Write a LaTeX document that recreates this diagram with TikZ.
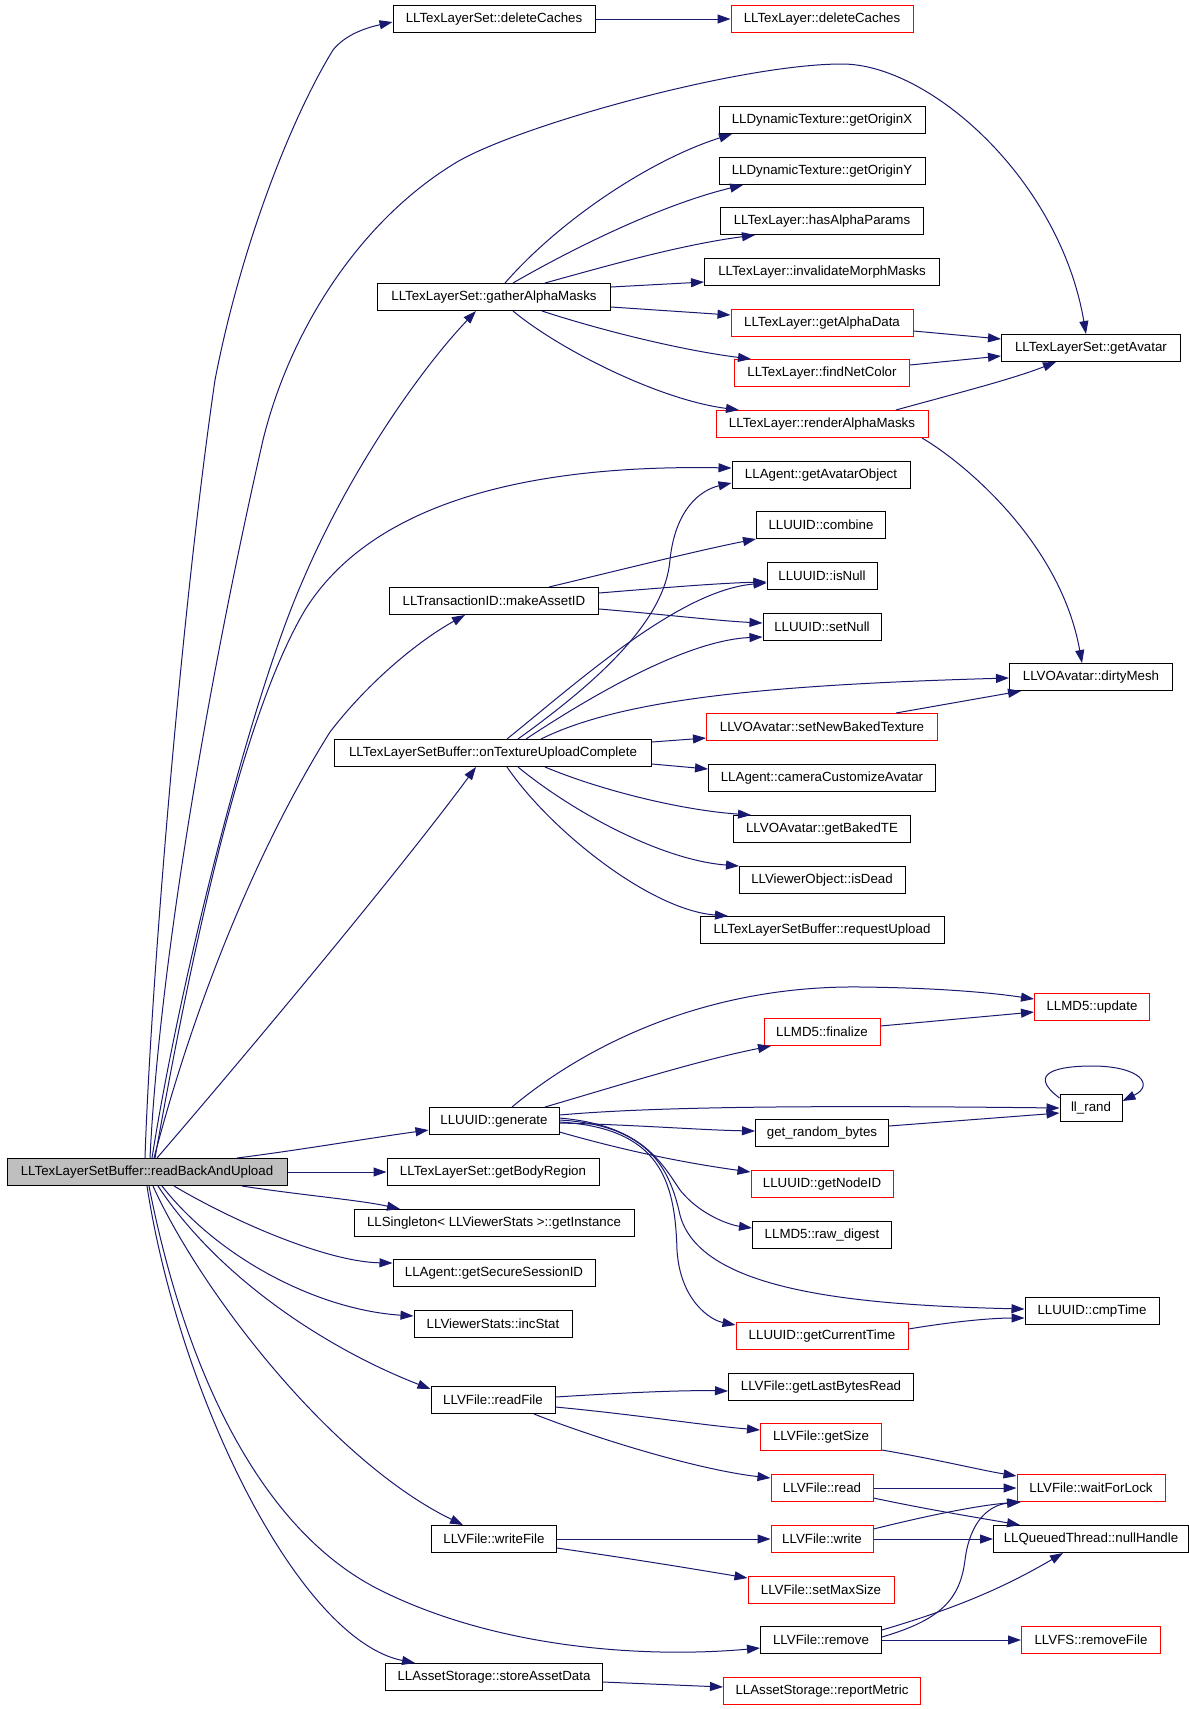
\documentclass[tikz,border=0pt]{standalone}
\usepackage{fontspec}
\setmainfont{Liberation Sans}
\usetikzlibrary{arrows.meta,calc}
\definecolor{edgeblue}{RGB}{25,25,112}
\definecolor{nred}{RGB}{255,0,0}
\begin{document}
\begin{tikzpicture}[x=1pt,y=-1pt,
  nb/.style={draw=black, line width=1pt, fill=white, rectangle, minimum height=27pt, minimum width=#1, inner sep=0pt, font=\fontsize{13.3}{16}\selectfont},
  rb/.style={nb=#1, draw=nred},
  mb/.style={nb=#1, fill=gray!50},
  e/.style={draw=edgeblue, line width=1pt, -{Triangle[length=13pt,width=9pt]}}]
\useasboundingbox (0,0) rectangle (1189,1709);
\fill[white] (0,0) rectangle (1189,1709);
% nodes
\node[mb=280pt] (main) at (147,1172) {LLTexLayerSetBuffer::readBackAndUpload};
\node[nb=202pt] (dcs) at (494,19) {LLTexLayerSet::deleteCaches};
\node[rb=182pt] (dcl) at (822,19) {LLTexLayer::deleteCaches};
\node[nb=206pt] (ox) at (822,120) {LLDynamicTexture::getOriginX};
\node[nb=206pt] (oy) at (822,171) {LLDynamicTexture::getOriginY};
\node[nb=203pt] (hap) at (822,221) {LLTexLayer::hasAlphaParams};
\node[nb=235pt] (imm) at (822,272) {LLTexLayer::invalidateMorphMasks};
\node[nb=233pt] (gam) at (494,297) {LLTexLayerSet::gatherAlphaMasks};
\node[rb=182pt] (gad) at (822,323) {LLTexLayer::getAlphaData};
\node[nb=179pt] (gav) at (1091,348) {LLTexLayerSet::getAvatar};
\node[rb=175pt] (fnc) at (822,373) {LLTexLayer::findNetColor};
\node[rb=212pt] (ram) at (822,424) {LLTexLayer::renderAlphaMasks};
\node[nb=178pt] (gao) at (821,475) {LLAgent::getAvatarObject};
\node[nb=129pt] (cmb) at (821,525) {LLUUID::combine};
\node[nb=110pt] (isn) at (822,576) {LLUUID::isNull};
\node[nb=209pt] (mai) at (494,601) {LLTransactionID::makeAssetID};
\node[nb=118pt] (stn) at (822,627) {LLUUID::setNull};
\node[nb=163pt] (dm) at (1091,677) {LLVOAvatar::dirtyMesh};
\node[rb=231pt] (snb) at (822,727) {LLVOAvatar::setNewBakedTexture};
\node[nb=317pt] (otu) at (493,753) {LLTexLayerSetBuffer::onTextureUploadComplete};
\node[nb=227pt] (cca) at (822,778) {LLAgent::cameraCustomizeAvatar};
\node[nb=177pt] (gbt) at (822,829) {LLVOAvatar::getBakedTE};
\node[nb=166pt] (isd) at (822,880) {LLViewerObject::isDead};
\node[nb=244pt] (ru) at (822,930) {LLTexLayerSetBuffer::requestUpload};
\node[rb=115pt] (upd) at (1092,1007) {LLMD5::update};
\node[rb=116pt] (fin) at (822,1032) {LLMD5::finalize};
\node[nb=62pt] (llr) at (1091,1108) {ll\_rand};
\node[nb=130pt] (gen) at (494,1121) {LLUUID::generate};
\node[nb=133pt] (grb) at (822,1133) {get\_random\_bytes};
\node[nb=212pt] (gbr) at (493,1172) {LLTexLayerSet::getBodyRegion};
\node[rb=142pt] (gni) at (822,1184) {LLUUID::getNodeID};
\node[nb=280pt] (gin) at (494,1223) {LLSingleton< LLViewerStats >::getInstance};
\node[nb=139pt] (rd) at (822,1235) {LLMD5::raw\_digest};
\node[nb=202pt] (gss) at (494,1273) {LLAgent::getSecureSessionID};
\node[nb=134pt] (cmp) at (1092,1311) {LLUUID::cmpTime};
\node[nb=158pt] (inc) at (493,1324) {LLViewerStats::incStat};
\node[rb=172pt] (gct) at (822,1336) {LLUUID::getCurrentTime};
\node[nb=124pt] (rf) at (493,1400) {LLVFile::readFile};
\node[nb=185pt] (glb) at (821,1387) {LLVFile::getLastBytesRead};
\node[rb=121pt] (gsz) at (821,1437) {LLVFile::getSize};
\node[rb=102pt] (rdd) at (822,1488) {LLVFile::read};
\node[rb=148pt] (wfl) at (1091,1488) {LLVFile::waitForLock};
\node[nb=125pt] (wf) at (494,1539) {LLVFile::writeFile};
\node[rb=102pt] (wr) at (822,1539) {LLVFile::write};
\node[nb=195pt] (nh) at (1091,1539) {LLQueuedThread::nullHandle};
\node[rb=146pt] (sms) at (821,1590) {LLVFile::setMaxSize};
\node[nb=121pt] (rm) at (821,1640) {LLVFile::remove};
\node[rb=139pt] (rmf) at (1091,1640) {LLVFS::removeFile};
\node[nb=217pt] (sad) at (494,1677) {LLAssetStorage::storeAssetData};
\node[rb=197pt] (rpm) at (822,1691) {LLAssetStorage::reportMetric};
% edges from main
\draw[e] ($(main.north)+(-2,0)$) .. controls (150,1000) and (180,620) .. (215,380) .. controls (240,250) and (290,120) .. (333,50) .. controls (345,35) and (365,28) .. ($(dcs.west)+(0,3)$);
\draw[e] ($(main.north)+(3,0)$) .. controls (160,950) and (215,650) .. (263,440) .. controls (290,330) and (360,220) .. (457,162) .. controls (520,125) and (740,64) .. (842,64) .. controls (930,64) and (1060,180) .. ($(gav.north)+(-5,0)$);
\draw[e] ($(main.north)+(5,0)$) .. controls (180,980) and (250,700) .. (303,580) .. controls (350,470) and (420,370) .. ($(gam.south)+(-18,0)$);
\draw[e] ($(main.north)+(8,0)$) .. controls (190,960) and (240,720) .. (305,610) .. controls (380,490) and (560,465) .. ($(gao.west)+(0,-7)$);
\draw[e] ($(main.north)+(7,0)$) .. controls (190,1020) and (250,860) .. (330,732) .. controls (370,680) and (420,640) .. ($(mai.south)+(-29,0)$);
\draw[e] ($(main.north)+(10,0)$) .. controls (250,1050) and (400,870) .. ($(otu.south)+(-17,0)$);
\draw[e] ($(main.north)+(90,0)$) .. controls (300,1150) and (370,1138) .. ($(gen.west)+(0,9)$);
\draw[e] (main.east) -- (gbr.west);
\draw[e] ($(main.south)+(95,0)$) .. controls (300,1195) and (360,1200) .. ($(gin.north)+(-94,0)$);
\draw[e] ($(main.south)+(27,0)$) .. controls (240,1225) and (330,1262) .. ($(gss.west)+(0,-10)$);
\draw[e] ($(main.south)+(15,0)$) .. controls (220,1260) and (320,1310) .. ($(inc.west)+(0,-8)$);
\draw[e] ($(main.south)+(11,0)$) .. controls (220,1280) and (330,1350) .. ($(rf.west)+(0,-11)$);
\draw[e] ($(main.south)+(6,0)$) .. controls (200,1290) and (330,1460) .. ($(wf.north)+(-31,0)$);
\draw[e] ($(main.south)+(2,0)$) .. controls (185,1370) and (260,1530) .. (380,1590) .. controls (500,1650) and (650,1658) .. ($(rm.west)+(0,8)$);
\draw[e] ($(main.south)+(0,0)$) .. controls (180,1400) and (300,1640) .. ($(sad.north)+(-79,0)$);
% deleteCaches
\draw[e] (dcs.east) -- (dcl.west);
% gatherAlphaMasks
\draw[e] ($(gam.north)+(11,0)$) .. controls (560,220) and (650,160) .. ($(ox.south)+(-90,0)$);
\draw[e] ($(gam.north)+(19,0)$) .. controls (570,250) and (660,205) .. ($(oy.south)+(-79,0)$);
\draw[e] ($(gam.north)+(51,0)$) .. controls (610,265) and (680,245) .. ($(hap.south)+(-67,0)$);
\draw[e] ($(gam.east)+(0,-10)$) -- ($(imm.west)+(0,10)$);
\draw[e] ($(gam.east)+(0,10)$) -- ($(gad.west)+(0,-8)$);
\draw[e] ($(gam.south)+(48,0)$) .. controls (600,330) and (680,350) .. ($(fnc.north)+(-71,0)$);
\draw[e] ($(gam.south)+(19,0)$) .. controls (560,350) and (660,400) .. ($(ram.north)+(-83,0)$);
\draw[e] ($(gad.east)+(0,8)$) -- ($(gav.west)+(0,-9)$);
\draw[e] ($(fnc.east)+(0,-8)$) -- ($(gav.west)+(0,8)$);
\draw[e] ($(ram.north)+(74,0)$) .. controls (950,395) and (1010,380) .. ($(gav.south)+(-35,0)$);
\draw[e] ($(ram.south)+(100,0)$) .. controls (960,460) and (1060,540) .. ($(dm.north)+(-9,0)$);
% makeAssetID
\draw[e] ($(mai.north)+(55,0)$) .. controls (620,570) and (700,550) .. (cmb.south west);
\draw[e] ($(mai.east)+(0,-8)$) .. controls (660,588) and (720,583) .. ($(isn.west)+(0,6)$);
\draw[e] ($(mai.east)+(0,8)$) .. controls (660,614) and (720,621) .. ($(stn.west)+(0,-4)$);
% onTextureUploadComplete
\draw[e] ($(otu.north)+(25,0)$) .. controls (600,680) and (665,620) .. (670,560) .. controls (675,510) and (700,490) .. ($(gao.west)+(0,8)$);
\draw[e] ($(otu.north)+(14,0)$) .. controls (580,680) and (680,590) .. ($(isn.west)+(0,7)$);
\draw[e] ($(otu.north)+(33,0)$) .. controls (600,690) and (690,640) .. ($(stn.west)+(0,10)$);
\draw[e] ($(otu.north)+(48,0)$) .. controls (620,700) and (760,685) .. ($(dm.west)+(0,1)$);
\draw[e] ($(otu.east)+(0,-11)$) -- ($(snb.west)+(0,11)$);
\draw[e] ($(otu.east)+(0,11)$) -- ($(cca.west)+(0,-9)$);
\draw[e] ($(otu.south)+(52,0)$) .. controls (600,790) and (680,810) .. ($(gbt.north)+(-71,0)$);
\draw[e] ($(otu.south)+(25,0)$) .. controls (570,810) and (660,860) .. ($(isd.north)+(-83,0)$);
\draw[e] ($(otu.south)+(14,0)$) .. controls (550,830) and (650,910) .. ($(ru.north)+(-94,0)$);
\draw[e] ($(snb.north)+(74,0)$) -- ($(dm.south)+(-70,0)$);
% generate
\draw[e] ($(gen.north)+(18,0)$) .. controls (580,1050) and (700,985) .. (861,987) .. controls (950,988) and (1000,994) .. ($(upd.west)+(0,-8)$);
\draw[e] ($(gen.north)+(51,0)$) .. controls (620,1085) and (700,1060) .. ($(fin.south)+(-51,0)$);
\draw[e] ($(gen.east)+(0,-6)$) .. controls (650,1107) and (800,1105) .. (llr.west);
\draw[e] ($(gen.east)+(0,2)$) .. controls (640,1125) and (700,1130) .. ($(grb.west)+(0,-2)$);
\draw[e] ($(gen.east)+(0,11)$) .. controls (640,1155) and (700,1165) .. ($(gni.west)+(0,-12)$);
\draw[e] ($(gen.east)+(0,-3)$) .. controls (640,1125) and (660,1160) .. (680,1190) .. controls (700,1215) and (730,1225) .. ($(rd.west)+(0,-7)$);
\draw[e] ($(gen.east)+(0,-1)$) .. controls (650,1125) and (670,1170) .. (680,1215) .. controls (700,1290) and (850,1305) .. ($(cmp.west)+(0,-2)$);
\draw[e] ($(gen.east)+(0,1)$) .. controls (660,1128) and (675,1180) .. (677,1250) .. controls (680,1300) and (710,1320) .. ($(gct.west)+(0,-11)$);
\draw[e] ($(grb.east)+(0,-7)$) -- ($(llr.west)+(0,5)$);
\draw[e] ($(fin.east)+(0,-6)$) -- ($(upd.west)+(0,5)$);
\draw[e] ($(gct.east)+(0,-7)$) .. controls (950,1322) and (990,1318) .. ($(cmp.west)+(0,7)$);
\draw[e] ($(llr.west)+(0,-10)$) .. controls (1025,1072) and (1060,1066) .. (1092,1066) .. controls (1140,1066) and (1155,1085) .. ($(llr.east)+(0,-7)$);
% readFile
\draw[e] ($(rf.east)+(0,-3)$) .. controls (620,1393) and (680,1390) .. ($(glb.west)+(0,4)$);
\draw[e] ($(rf.east)+(0,7)$) .. controls (640,1415) and (700,1425) .. ($(gsz.west)+(0,-7)$);
\draw[e] ($(rf.south)+(41,0)$) .. controls (600,1440) and (700,1470) .. ($(rdd.west)+(0,-10)$);
\draw[e] ($(gsz.east)+(0,13)$) .. controls (940,1460) and (980,1470) .. ($(wfl.west)+(0,-12)$);
\draw[e] (rdd.east) -- (wfl.west);
\draw[e] ($(rdd.east)+(0,10)$) .. controls (930,1510) and (980,1518) .. ($(nh.north)+(-71,0)$);
% writeFile
\draw[e] (wf.east) -- (wr.west);
\draw[e] ($(wf.east)+(0,9)$) .. controls (640,1560) and (700,1570) .. ($(sms.west)+(0,-12)$);
\draw[e] ($(wr.east)+(0,-10)$) .. controls (930,1515) and (980,1505) .. ($(wfl.south)+(-70,0)$);
\draw[e] (wr.east) -- (nh.west);
% remove
\draw[e] ($(rm.east)+(0,-10)$) .. controls (950,1610) and (1000,1590) .. ($(nh.south)+(-28,0)$);
\draw[e] ($(rm.east)+(0,-3)$) .. controls (940,1620) and (960,1600) .. (965,1560) .. controls (970,1520) and (990,1505) .. ($(wfl.south)+(-71,0)$);
\draw[e] (rm.east) -- (rmf.west);
% storeAssetData
\draw[e] ($(sad.east)+(0,5)$) -- ($(rpm.west)+(0,-4)$);
\end{tikzpicture}
\end{document}
